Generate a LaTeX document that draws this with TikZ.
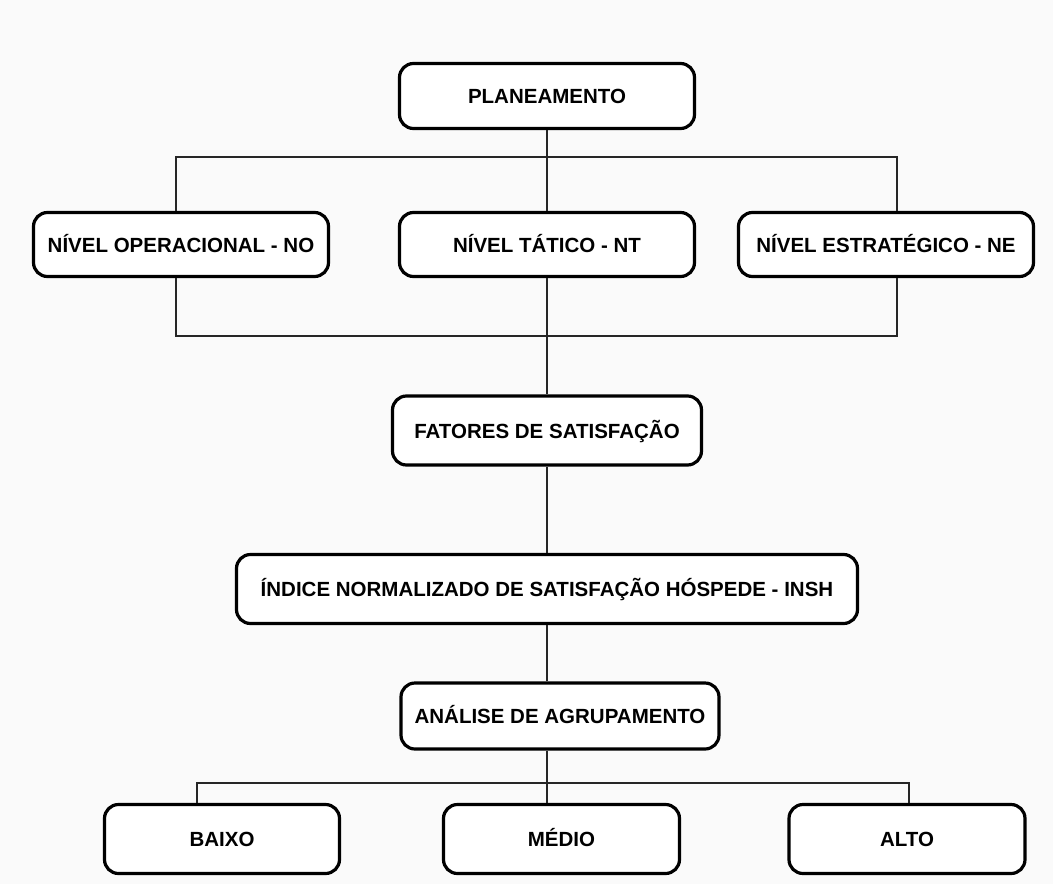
\documentclass[tikz,border=0pt]{standalone}
\usepackage{fontspec}
\setmainfont{Liberation Sans}
\usetikzlibrary{positioning}

\begin{document}
\begin{tikzpicture}[x=1pt, y=-1pt]

	\tikzstyle{bloco}=[rectangle, rounded corners=14pt, draw, line width=3.2pt, fill=white,
		font=\fontsize{20.5}{24}\selectfont\bfseries, inner sep=0pt,
		text height=17pt, text depth=2pt]
	\tikzstyle{ligne}=[line width=1.6pt, black!85]

	\fill[black!2] (0,0) rectangle (1053,884);
	\useasboundingbox (0,0) rectangle (1053,884);

	% placement des noeuds
	\node[bloco, minimum width=295, minimum height=65] (plan) at (547,96) {PLANEAMENTO};
	\node[bloco, minimum width=295, minimum height=64] (no) at (181,244.5) {NÍVEL OPERACIONAL - NO};
	\node[bloco, minimum width=295, minimum height=64] (nt) at (547,244.5) {NÍVEL TÁTICO - NT};
	\node[bloco, minimum width=295, minimum height=64] (ne) at (886,244.5) {NÍVEL ESTRATÉGICO - NE};
	\node[bloco, minimum width=309, minimum height=69] (fat) at (547,430.5) {FATORES DE SATISFAÇÃO};
	\node[bloco, minimum width=621, minimum height=69] (ind) at (547,589) {ÍNDICE NORMALIZADO DE SATISFAÇÃO HÓSPEDE - INSH};
	\node[bloco, minimum width=318, minimum height=66] (ana) at (560,716) {ANÁLISE DE AGRUPAMENTO};
	\node[bloco, minimum width=235, minimum height=69] (bai) at (222,839) {BAIXO};
	\node[bloco, minimum width=236, minimum height=69] (med) at (561.5,839) {MÉDIO};
	\node[bloco, minimum width=236, minimum height=69] (alt) at (907,839) {ALTO};

	% barramentos
	\coordinate (g1) at (176,157);
	\coordinate (d1) at (897,157);
	\coordinate (g2) at (176,336);
	\coordinate (d2) at (897,336);
	\coordinate (g3) at (197,783);
	\coordinate (d3) at (909,783);

	\draw[ligne] (plan) -- (nt) ;
	\draw[ligne] (no.north -| g1) -- (g1) -- (d1) -- (ne.north -| d1) ;
	\draw[ligne] (no.south -| g2) -- (g2) -- (d2) -- (ne.south -| d2) ;
	\draw[ligne] (nt) -- (fat) ;
	\draw[ligne] (fat) -- (ind) ;
	\draw[ligne] (ind.south) -- (ana.north -| ind) ;
	\draw[ligne] (ana.south -| ind) -- (med.north -| ind) ;
	\draw[ligne] (bai.north -| g3) -- (g3) -- (d3) -- (alt.north -| d3) ;

\end{tikzpicture}
\end{document}
